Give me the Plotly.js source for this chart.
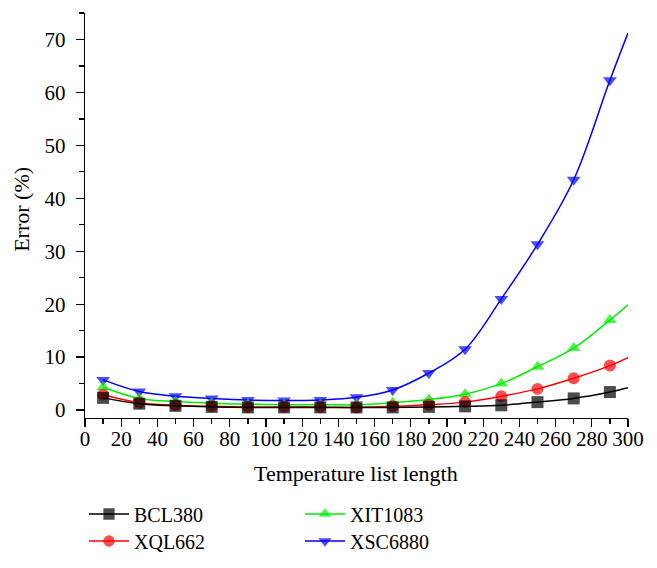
<!DOCTYPE html>
<html>
<head>
<meta charset="utf-8">
<script src="https://cdn.plot.ly/plotly-3.0.1.min.js"></script>
<style>html,body{margin:0;padding:0;background:#fff;}#chart{width:657px;height:568px;}</style>
</head>
<body>
<div id="chart"></div>
<script>
// x positions: markers at 10..290, curve continues to 300
const lengths = [10,30,50,70,90,110,130,150,170,190,210,230,250,270,290,300];
const seriesNames = ['BCL380','XQL662','XIT1083','XSC6880'];
const bcl380  = [2.3,1.2,0.8,0.6,0.5,0.5,0.5,0.5,0.5,0.6,0.7,0.9,1.5,2.2,3.4,4.2];
const xql662  = [2.9,1.4,0.9,0.7,0.6,0.6,0.6,0.5,0.7,1.0,1.5,2.6,4.0,6.0,8.4,9.9];
const xit1083 = [4.3,2.2,1.6,1.3,1.1,1.0,1.0,1.0,1.4,2.0,3.0,5.0,8.2,11.7,17.0,19.9];
const xsc6880 = [5.7,3.5,2.6,2.2,1.9,1.8,1.9,2.4,3.8,7.0,11.5,21.0,31.3,43.5,62.3,71.2];
const xTickVals = [0,20,40,60,80,100,120,140,160,180,200,220,240,260,280,300];
const yTickVals = [0,10,20,30,40,50,60,70];
const xTitle = 'Temperature list length';
const yTitle = 'Error (%)';

const FONT = 'Liberation Serif, Times New Roman, serif';
const values = [bcl380, xql662, xit1083, xsc6880];
const colors = ['#000000','#ff0000','#00ee00','#0000ff'];
const symbols = ['square','circle','triangle-up','triangle-down'];
const legendIds = ['legend','legend2','legend3','legend4'];
const msize = lengths.map((v,i)=> i === lengths.length-1 ? 0 : 12);

const traces = values.map((vals,k)=>({
  x: lengths, y: vals, name: seriesNames[k], type:'scatter', mode:'lines+markers',
  line:{color:colors[k], width:1.5, shape:'spline'},
  marker:{color:colors[k], symbol:symbols[k], size:msize, line:{width:0}},
  legend: legendIds[k], cliponaxis:false
}));
const drawOrder = [3,2,1,0];
const data = drawOrder.map(i=>traces[i]);

function leg(xpx, ypx){
  return {x: xpx/657, xref:'container', xanchor:'left', y: 1 - ypx/568, yref:'container', yanchor:'middle',
    font:{family:FONT, size:20, color:'#000'}, bgcolor:'rgba(0,0,0,0)', borderwidth:0, itemwidth:40};
}

const layout = {
  width:657, height:568,
  margin:{l:85, r:29, t:13, b:150, autoexpand:false},
  paper_bgcolor:'#fff', plot_bgcolor:'#fff',
  font:{family:FONT, color:'#000'},
  xaxis:{
    range:[0,300], tickvals:xTickVals, ticktext:xTickVals.map(String), tickangle:0, automargin:false,
    ticks:'outside', ticklen:8, tickwidth:1.3, tickcolor:'#000', ticklabelstandoff:-7,
    minor:{dtick:10, ticks:'outside', ticklen:5, tickwidth:1.3, tickcolor:'#000', showgrid:false},
    showline:true, linecolor:'#000', linewidth:1.3, showgrid:false, zeroline:false,
    tickfont:{family:FONT, size:21, color:'#000'}
  },
  yaxis:{
    range:[-1.5,75], tickvals:yTickVals, ticktext:yTickVals.map(String), automargin:false,
    ticks:'outside', ticklen:8, tickwidth:1.3, tickcolor:'#000', ticklabelstandoff:6,
    minor:{tickvals:[5,15,25,35,45,55,65,75], ticks:'outside', ticklen:5, tickwidth:1.3, tickcolor:'#000', showgrid:false},
    showline:true, linecolor:'#000', linewidth:1.3, showgrid:false, zeroline:false,
    tickfont:{family:FONT, size:21, color:'#000'}
  },
  annotations:[
    {text:xTitle, xref:'paper', yref:'paper', x:0.499, y:-0.136, xanchor:'center', yanchor:'middle',
     showarrow:false, font:{family:FONT, size:22, color:'#000'}},
    {text:yTitle, xref:'paper', yref:'paper', x:-0.116, y:0.514, xanchor:'center', yanchor:'middle',
     textangle:-90, showarrow:false, font:{family:FONT, size:22, color:'#000'}}
  ],
  legend: leg(84, 514),
  legend2: leg(84, 541),
  legend3: leg(300, 514),
  legend4: leg(300, 541),
  showlegend:true
};
Plotly.newPlot('chart', data, layout, {displayModeBar:false, staticPlot:true});
</script>
</body>
</html>
